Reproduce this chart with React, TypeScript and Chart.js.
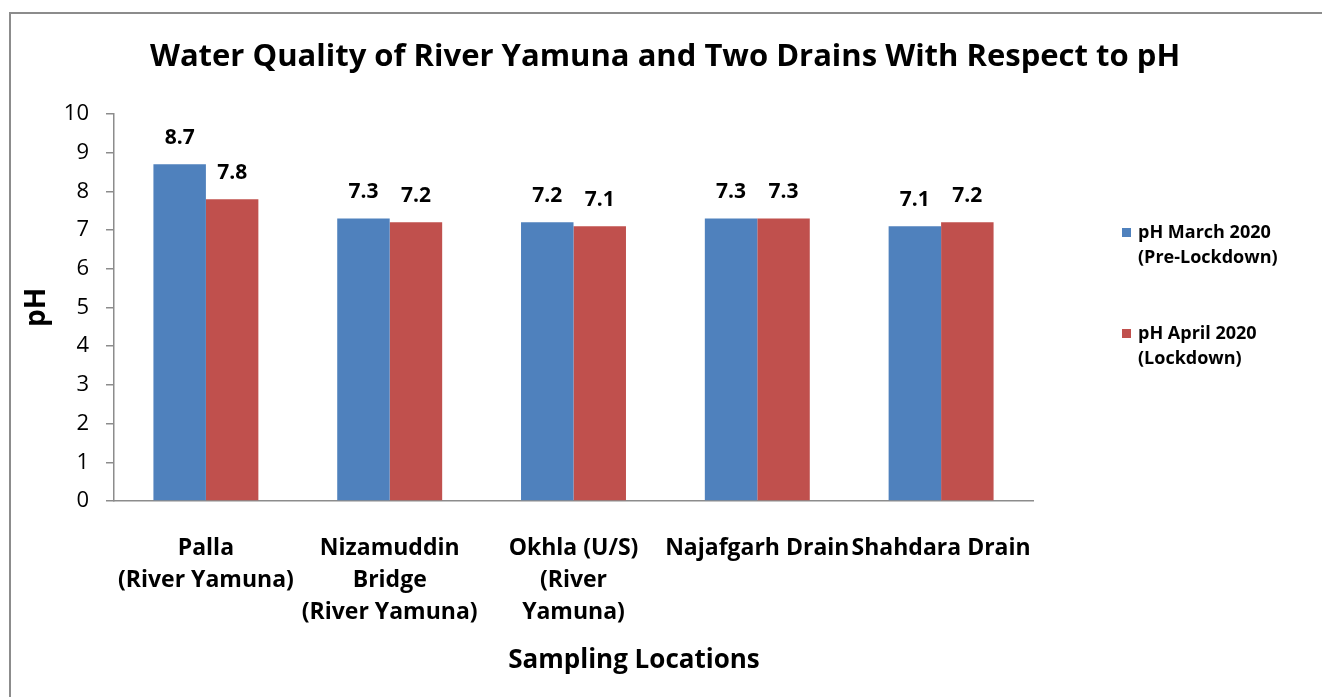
import React, { useEffect, useRef } from "react";
import { Chart, registerables } from "chart.js";

Chart.register(...registerables);

const categories: string[][] = [
  ["Palla", "(River Yamuna)"],
  ["Nizamuddin", "Bridge", "(River Yamuna)"],
  ["Okhla (U/S)", "(River", "Yamuna)"],
  ["Najafgarh Drain"],
  ["Shahdara Drain"],
];
const phMarch: number[] = [8.7, 7.3, 7.2, 7.3, 7.1];
const phApril: number[] = [7.8, 7.2, 7.1, 7.3, 7.2];
const seriesNames: string[][] = [
  ["pH March 2020", "(Pre-Lockdown)"],
  ["pH April 2020", "(Lockdown)"],
];
const seriesColors = ["#4F81BD", "#C0504D"];
const chartTitle = "Water Quality of River Yamuna and Two Drains With Respect to pH";
const xTitle = "Sampling Locations";
const yTitle = "pH";

const FONT = "'Open Sans', Lato, sans-serif";
const AXIS_GRAY = "#8c8c8c";

const decorPlugin = {
  id: "decor",
  afterDraw(chart: any) {
    const ctx = chart.ctx as CanvasRenderingContext2D;
    ctx.save();
    // outer frame
    ctx.strokeStyle = AXIS_GRAY;
    ctx.lineWidth = 2;
    ctx.beginPath();
    ctx.moveTo(10, chart.height + 5);
    ctx.lineTo(10, 13);
    ctx.lineTo(chart.width + 5, 13);
    ctx.stroke();

    // title
    ctx.fillStyle = "#000";
    ctx.font = `bold 31px ${FONT}`;
    ctx.textAlign = "center";
    ctx.textBaseline = "middle";
    ctx.fillText(chartTitle, 665, 57);

    // x axis title
    ctx.font = `bold 26px ${FONT}`;
    ctx.fillText(xTitle, 634, 661);

    // data labels
    ctx.font = `bold 21px ${FONT}`;
    chart.data.datasets.forEach((ds: any, i: number) => {
      const meta = chart.getDatasetMeta(i);
      meta.data.forEach((bar: any, j: number) => {
        ctx.fillText(String(ds.data[j].toFixed(1)), bar.x, bar.y - 26);
      });
    });

    // legend
    const legendX = 1122;
    const starts = [233, 334];
    ctx.textAlign = "left";
    ctx.font = `bold 18px ${FONT}`;
    chart.data.datasets.forEach((ds: any, i: number) => {
      const y0 = starts[i];
      ctx.fillStyle = ds.backgroundColor;
      ctx.fillRect(legendX, y0 - 5, 9, 9);
      ctx.fillStyle = "#000";
      seriesNames[i].forEach((line, k) => {
        ctx.fillText(line, legendX + 16, y0 + k * 25);
      });
    });
    ctx.restore();
  },
};

export default function App() {
  const canvasRef = useRef<HTMLCanvasElement | null>(null);

  useEffect(() => {
    if (!canvasRef.current) return;
    const chart = new Chart(canvasRef.current, {
      type: "bar",
      data: {
        labels: categories,
        datasets: [
          {
            label: seriesNames[0].join(" "),
            data: phMarch,
            backgroundColor: seriesColors[0],
            categoryPercentage: 0.571,
            barPercentage: 1.0,
          },
          {
            label: seriesNames[1].join(" "),
            data: phApril,
            backgroundColor: seriesColors[1],
            categoryPercentage: 0.571,
            barPercentage: 1.0,
          },
        ],
      },
      options: {
        responsive: false,
        animation: false,
        layout: { padding: { top: 114, left: 18, right: 289, bottom: 10 } },
        plugins: {
          legend: { display: false },
          title: { display: false },
          tooltip: { enabled: false },
        },
        scales: {
          x: {
            grid: { display: true, drawOnChartArea: false, drawTicks: false },
            border: { display: true, color: AXIS_GRAY, width: 1.5 },
            ticks: {
              color: "#000",
              autoSkip: false,
              maxRotation: 0,
              minRotation: 0,
              padding: 31,
              font: { family: FONT, size: 23, weight: "bold", lineHeight: 32 / 23 },
            },
            title: { display: false, text: xTitle },
            afterFit: (scale: any) => {
              scale.height = 186;
            },
          },
          y: {
            min: 0,
            max: 10,
            ticks: {
              stepSize: 1,
              color: "#000",
              padding: 17,
              font: { family: FONT, size: 22 },
            },
            grid: {
              display: true,
              drawOnChartArea: false,
              drawTicks: true,
              tickLength: 8,
              color: AXIS_GRAY,
              lineWidth: 1.5,
            },
            border: { display: true, color: AXIS_GRAY, width: 1.5 },
            title: {
              display: true,
              text: yTitle,
              color: "#000",
              font: { family: FONT, size: 28, weight: "bold", lineHeight: 1.2 },
              padding: { top: 2, bottom: 4 },
            },
            afterFit: (scale: any) => {
              scale.width = 96;
            },
          },
        },
      },
      plugins: [decorPlugin],
    });
    return () => chart.destroy();
  }, []);

  return (
    <canvas
      ref={canvasRef}
      width={1322}
      height={697}
      style={{ position: "fixed", left: 0, top: 0, width: 1322, height: 697, background: "#fff" }}
    />
  );
}
